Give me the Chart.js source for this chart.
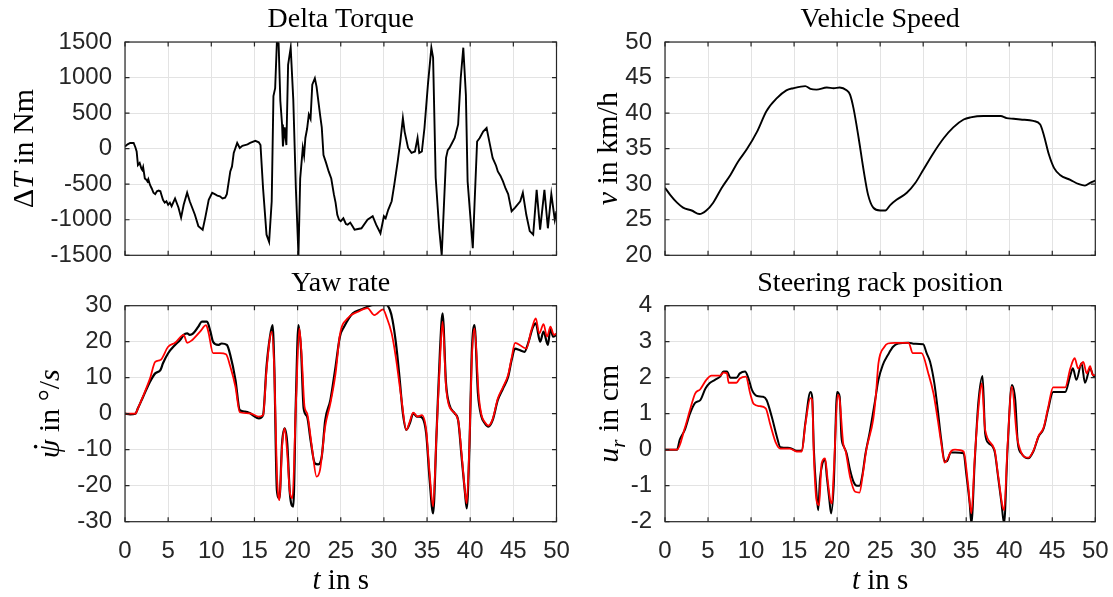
<!DOCTYPE html>
<html><head><meta charset="utf-8">
<script src="https://cdn.jsdelivr.net/npm/chart.js@4.4.1/dist/chart.umd.min.js"></script>
<style>
html,body{margin:0;padding:0;background:#fff;}
#wrap{position:relative;width:1113px;height:597px;background:#fff;}
canvas{position:absolute;left:0;top:0;}
</style></head><body><div id="wrap">
<canvas id="c1" width="1113" height="597"></canvas>
<canvas id="c2" width="1113" height="597"></canvas>
<canvas id="c3" width="1113" height="597"></canvas>
<canvas id="c4" width="1113" height="597"></canvas>
</div>
<script>
// ---------------- DATA ----------------
const timeTicks = [0,5,10,15,20,25,30,35,40,45,50];

const torqueT = [0,0.3,0.6,1.0,1.2,1.35,1.5,1.7,1.9,2.0,2.1,2.3,2.5,2.6,2.7,2.9,3.1,3.3,3.5,3.7,3.9,4.1,4.2,4.4,4.6,4.8,5.0,5.2,5.4,5.8,6.2,6.5,6.8,7.2,7.5,8.1,8.5,9.0,9.3,9.7,10.1,10.4,10.7,11.0,11.3,11.6,11.8,12.2,12.4,12.6,13.0,13.3,13.6,13.9,14.2,14.5,15.1,15.5,15.7,16.0,16.4,16.7,17.0,17.2,17.4,17.6,17.8,18.0,18.2,18.3,18.5,18.7,18.9,19.2,19.5,19.8,20.1,20.3,20.6,20.75,20.9,21.1,21.3,21.5,21.7,22.0,22.2,22.6,22.8,23.0,23.3,23.6,23.9,24.2,24.4,24.6,24.8,25.0,25.3,25.6,25.8,26.1,26.4,26.6,27.0,27.4,28.1,28.7,29.1,29.6,30.0,30.2,30.5,30.7,30.9,31.2,31.6,31.9,32.2,32.4,32.8,33.2,33.6,33.9,34.1,34.4,34.7,35.1,35.5,35.7,36.0,36.4,36.7,37.2,37.4,37.6,37.9,38.2,38.6,38.9,39.2,39.5,39.7,40.3,40.5,40.8,41.1,41.5,41.9,42.3,42.6,43.0,43.2,43.5,43.8,44.1,44.4,44.8,45.2,45.8,46.1,46.5,46.9,47.3,47.7,48.1,48.6,49.0,49.4,49.8,50];
const torqueV = [30,60,80,80,20,-40,-230,-200,-280,-300,-260,-420,-440,-460,-430,-510,-560,-620,-640,-600,-590,-600,-640,-720,-760,-740,-790,-760,-810,-700,-830,-970,-790,-620,-740,-930,-1090,-1140,-970,-720,-620,-640,-660,-670,-700,-690,-640,-320,-250,-60,80,10,40,50,60,80,110,90,50,-560,-1210,-1310,-740,740,850,1500,1480,670,340,30,300,50,1180,1420,690,-560,-1500,-420,10,-100,150,280,480,420,900,990,870,480,300,-90,-200,-320,-420,-640,-760,-930,-1000,-1020,-980,-1060,-1070,-1040,-1100,-1140,-1130,-1120,-1000,-950,-1070,-1190,-950,-980,-860,-800,-740,-510,-180,100,430,240,10,-60,-40,150,-60,-40,290,900,1420,1280,-410,-1120,-1500,-130,-20,10,80,150,340,990,1420,760,-460,-1400,-790,100,150,240,290,50,-130,-240,-320,-380,-460,-560,-640,-880,-830,-740,-620,-930,-1160,-1210,-580,-1140,-580,-1120,-640,-1000,-880];

const speedT = [0,0.6,1.4,2.1,3.1,4.0,4.8,5.6,6.6,7.6,8.5,9.5,10.7,11.8,13.0,14.1,14.9,16.3,16.9,17.6,18.8,19.6,20.3,21.1,21.5,21.9,22.5,23.1,23.6,24.2,25.0,25.6,26.2,26.9,28.1,29.1,30.0,31.2,32.4,33.5,34.7,35.5,37.0,39.0,39.7,40.5,41.3,42.8,43.6,44.0,44.6,45.2,45.9,47.1,48.1,48.8,49.4,50];
const speedV = [29.5,28.5,27.4,26.7,26.3,25.8,26.3,27.4,29.5,31.3,33.2,34.9,37.4,40.3,42.1,43.2,43.5,43.8,43.4,43.3,43.6,43.5,43.6,43.2,42.6,40.7,36.5,31.8,28.5,26.7,26.3,26.3,27.1,27.8,28.8,30.2,32.0,34.4,36.5,38.0,39.1,39.4,39.6,39.6,39.3,39.2,39.1,38.9,38.4,37.0,34.2,32.3,31.3,30.6,30.0,29.8,30.2,30.5];

const yawMeasT = [0,0.6,1.2,1.5,2.1,2.9,3.5,4.1,4.4,5.0,5.8,6.4,6.8,7.2,7.5,7.9,8.5,8.9,9.5,9.9,10.2,10.8,11.2,11.8,12.2,12.8,13.3,13.9,14.5,14.9,15.5,16.0,16.4,16.8,17.1,17.3,17.6,17.9,18.2,18.5,18.8,19.1,19.5,19.8,20.1,20.4,20.7,21.1,21.5,22.0,22.4,22.8,23.2,23.8,24.4,24.9,25.4,26.4,27.4,28.3,28.7,30.1,30.7,31.0,31.4,31.8,32.2,32.6,33.0,33.4,33.8,34.1,34.5,34.9,35.3,35.7,36.1,36.5,36.8,37.2,37.6,38.2,38.6,39.0,39.4,39.6,39.9,40.2,40.5,40.9,41.3,41.7,42.1,42.6,43.2,43.8,44.4,44.8,45.2,45.7,46.3,46.7,47.3,47.6,48.1,48.5,49.0,49.3,49.6,50];
const yawMeasV = [0,-0.2,0,1.5,4.7,8.9,11.2,12.1,14.0,16.8,19.1,20.5,21.9,22.3,21.9,22.3,24.2,25.6,25.6,22.8,20.0,19.1,19.5,19.1,16.3,9.4,1.0,0.6,0.1,-0.6,-1.3,-0.4,13.1,21.4,24.6,13.1,-21.2,-23.5,-8.2,-4.1,-8.2,-22.1,-25.8,3.8,24.6,17.7,1.5,-0.8,-7.3,-13.8,-14.1,-11.9,-1.8,3.8,13.1,21.4,24.2,27.9,29.0,29.9,30.2,30.5,28.8,26.0,19.5,10.3,0.1,-4.5,-2.7,0.1,-0.8,-0.8,-1.3,-5.5,-18.4,-27.7,-5.5,17.7,27.9,8.4,2.4,0.1,-1.8,-11.9,-22.1,-26.3,-10.1,17.7,24.6,5.6,-0.8,-2.7,-3.6,-1.8,3.8,7.0,10.3,14.9,18.1,17.7,17.2,19.5,24.2,25.1,20.0,22.8,19.1,23.7,21.4,21.9];

const yawModelT = [0,1.2,1.5,2.1,2.9,3.5,4.1,5.0,5.8,6.8,7.2,7.7,8.7,9.4,9.7,10.2,11.0,11.7,12.2,12.8,13.3,14.5,15.5,16.0,16.4,17.0,17.3,17.6,17.9,18.2,18.5,18.8,19.1,19.4,19.8,20.2,20.5,20.8,21.1,21.7,22.2,22.6,23.2,23.8,24.4,24.9,25.8,27.0,28.1,28.9,29.9,30.3,30.9,31.4,32.0,32.6,33.0,33.4,33.9,34.4,34.9,35.3,35.7,36.1,36.5,36.8,37.2,37.6,38.6,39.0,39.4,39.6,39.9,40.2,40.5,41.0,41.3,41.7,42.1,42.6,43.2,43.8,44.4,44.8,45.2,46.5,47.1,47.6,48.0,48.5,48.9,49.3,49.7,50];
const yawModelV = [0,0,1.5,4.9,9.8,14.4,14.9,18.6,19.7,21.9,19.7,20.3,22.8,24.6,22.3,16.8,16.8,16.5,13.1,7.5,0.4,0.1,-0.8,-0.4,12.1,22.8,12.1,-16.6,-24.0,-9.2,-4.1,-11.0,-21.7,-23.5,2.0,23.7,14.9,2.0,0.1,-10.1,-17.5,-15.6,-3.5,2.9,11.2,21.9,26.5,28.3,29.3,27.4,29.0,26.9,22.3,15.4,4.7,-4.5,-2.2,0.3,-0.8,-0.4,-4.5,-16.6,-25.8,-5.5,14.9,25.6,7.5,1.9,-1.8,-11.0,-21.7,-24.9,-9.2,15.8,23.7,4.7,-0.3,-2.4,-3.3,-1.5,4.2,7.4,10.8,15.5,19.7,18.1,23.3,26.5,22.3,24.9,21.4,24.2,21.9,22.3];

const rackMeasT = [0,1.4,1.7,2.3,2.9,3.5,4.1,4.7,5.2,5.8,6.4,6.8,7.2,7.6,8.3,8.7,9.3,9.7,10.1,10.7,11.4,11.8,12.4,13.0,13.4,14.5,15.3,15.9,16.3,16.9,17.1,17.3,17.6,17.8,18.0,18.3,18.6,18.8,19.1,19.3,19.6,20.0,20.3,20.5,20.8,21.1,21.5,21.9,22.3,22.6,22.9,23.3,23.8,24.4,24.8,25.3,25.9,26.5,27.1,28.3,29.0,30.0,30.4,30.8,31.3,31.7,32.1,32.5,32.8,33.2,33.7,34.7,35.0,35.4,35.6,36.0,36.4,36.9,37.2,37.6,38.3,38.7,39.1,39.4,39.8,40.3,40.7,41.0,41.4,42.2,42.8,43.4,44.0,44.5,45.1,46.5,47.1,47.4,47.8,48.4,48.8,49.4,49.8,50];
const rackMeasV = [0,0,0.27,0.55,1.0,1.3,1.38,1.7,1.85,1.94,2.03,2.17,2.17,2.0,2.0,2.12,2.17,1.98,1.66,1.49,1.47,1.38,0.92,0.36,0.07,0.05,-0.03,-0.02,0.73,1.6,1.47,0,-1.2,-1.68,-0.84,-0.38,-0.27,-0.75,-1.4,-1.77,-1.03,1.6,1.47,0.36,0.08,-0.1,-0.56,-0.89,-1.0,-1.0,-0.75,-0.1,0.5,1.35,1.94,2.35,2.63,2.86,2.95,2.97,2.94,2.93,2.68,2.44,1.84,1.1,0.27,-0.33,-0.31,-0.08,-0.08,-0.1,-0.66,-1.49,-2.05,-0.29,1.29,2.05,0.45,0.18,-0.05,-0.75,-1.49,-2.05,0,1.8,1.38,0.18,-0.1,-0.24,-0.05,0.36,0.59,1.1,1.6,1.6,2.07,2.26,1.94,2.4,1.86,2.26,2.05,2.05];

const rackModelT = [0,1.4,2.3,2.9,3.5,4.1,4.8,5.4,6.4,6.8,7.2,7.4,8.3,8.7,9.4,9.9,10.3,11.0,11.7,12.2,12.9,13.4,14.5,15.3,15.9,16.3,16.9,17.1,17.3,17.6,17.9,18.2,18.6,18.9,19.2,19.4,19.6,20.1,20.3,20.7,21.0,21.5,22.1,22.6,23.0,23.4,24.2,24.5,24.8,25.5,25.9,26.7,28.3,28.8,29.8,30.6,31.2,31.7,32.1,32.5,33.3,33.7,34.7,35.2,35.6,36.0,36.4,36.8,37.2,38.3,38.7,39.4,39.8,40.3,40.9,41.4,42.2,42.8,43.4,44.0,44.5,45.1,46.5,47.1,47.6,48.0,48.6,49.0,49.4,49.7,50];
const rackModelV = [0,0,0.6,1.1,1.56,1.68,1.94,2.06,2.06,2.14,2.12,1.86,1.86,1.98,2.03,1.56,1.27,1.21,1.15,0.73,0.18,0.03,0.03,-0.05,-0.05,0.68,1.43,1.38,-0.19,-1.4,-1.54,-0.38,-0.24,-0.84,-1.4,-1.49,-0.66,1.52,1.38,0.18,-0.05,-0.75,-1.17,-1.19,-0.66,0,0.85,1.5,2.4,2.86,2.95,2.97,2.97,2.68,2.68,2.12,1.56,0.82,0.18,-0.36,-0.03,0,-0.05,-0.93,-1.77,-0.19,1.1,1.84,0.55,0,-0.7,-1.68,0.09,1.75,0.36,-0.08,-0.22,-0.03,0.38,0.62,1.15,1.73,1.73,2.26,2.54,2.26,2.44,2.12,2.32,2.07,2.07];

const torqueTicks = [-1500,-1000,-500,0,500,1000,1500];
const speedTicks = [20,25,30,35,40,45,50];
const yawTicks = [-30,-20,-10,0,10,20,30];
const rackTicks = [-2,-1,0,1,2,3,4];

// ---------------- RENDERING ----------------
const W = 1113, H = 597;
const TICK_FONT = {family: '"Liberation Sans", Arial, sans-serif', size: 24};
const SERIF = '"Liberation Serif", "Times New Roman", serif';

function pts(ts, vs){ return ts.map((t,i)=>({x:t, y:vs[i]})); }

const decoPlugin = {
  id: 'deco',
  afterDraw(chart){
    const o = chart.options.plugins.deco;
    const ctx = chart.ctx, a = chart.chartArea;
    const xs = chart.scales.x, ys = chart.scales.y;
    ctx.save();
    ctx.strokeStyle = '#262626';
    ctx.lineWidth = 1.2;
    ctx.strokeRect(a.left, a.top, a.right - a.left, a.bottom - a.top);
    const tl = 4.5;
    ctx.beginPath();
    xs.ticks.forEach(t => {
      const p = xs.getPixelForValue(t.value);
      ctx.moveTo(p, a.bottom); ctx.lineTo(p, a.bottom - tl);
      ctx.moveTo(p, a.top); ctx.lineTo(p, a.top + tl);
    });
    ys.ticks.forEach(t => {
      const p = ys.getPixelForValue(t.value);
      ctx.moveTo(a.left, p); ctx.lineTo(a.left + tl, p);
      ctx.moveTo(a.right, p); ctx.lineTo(a.right - tl, p);
    });
    ctx.stroke();
    ctx.fillStyle = '#000';
    ctx.font = '28px ' + SERIF;
    ctx.textAlign = 'center';
    ctx.textBaseline = 'alphabetic';
    ctx.fillText(o.title, (a.left + a.right) / 2, o.titleY);
    ctx.save();
    ctx.translate(o.yLabelX, (a.top + a.bottom) / 2);
    ctx.rotate(-Math.PI / 2);
    drawRuns(ctx, o.yLabel, 30);
    ctx.restore();
    if (o.xLabel) {
      ctx.save();
      ctx.translate((a.left + a.right) / 2, 589);
      drawRuns(ctx, o.xLabel, 29);
      ctx.restore();
    }
    ctx.restore();
  }
};

function runFont(r, size){
  const s = r.sub ? Math.round(size * 0.7) : size;
  return (r.i ? 'italic ' : '') + s + 'px ' + SERIF;
}
function drawRuns(ctx, runs, size){
  ctx.textAlign = 'left';
  ctx.textBaseline = 'alphabetic';
  ctx.fillStyle = '#000';
  let total = 0;
  const ws = runs.map(r => { ctx.font = runFont(r, size); const w = ctx.measureText(r.t).width; total += w; return w; });
  let x = -total / 2;
  runs.forEach((r, i) => {
    ctx.font = runFont(r, size);
    ctx.fillText(r.t, x, r.sub ? size * 0.22 : 0);
    if (r.dot) {
      ctx.beginPath();
      ctx.arc(x + ws[i] * 0.62, -size * 0.78, size * 0.06, 0, Math.PI * 2);
      ctx.fill();
    }
    x += ws[i];
  });
}

function makeChart(id, cfg){
  const ds = cfg.series.map(s => ({
    data: pts(s.t, s.v),
    borderColor: s.color,
    borderWidth: s.width,
    pointRadius: 0,
    fill: false,
    tension: 0,
    cubicInterpolationMode: s.smooth ? 'monotone' : 'default',
    order: s.order
  }));
  return new Chart(document.getElementById(id), {
    type: 'line',
    data: { datasets: ds },
    options: {
      responsive: false,
      devicePixelRatio: 1,
      animation: false,
      events: [],
      layout: { padding: { left: 0, top: cfg.area.top, right: W - cfg.area.right, bottom: 0 } },
      plugins: {
        legend: { display: false },
        tooltip: { enabled: false },
        deco: { title: cfg.title, titleY: cfg.titleY, yLabel: cfg.yLabel, yLabelX: cfg.yLabelX, xLabel: cfg.xLabel }
      },
      scales: {
        x: {
          type: 'linear', min: 0, max: 50,
          afterBuildTicks: s => { s.ticks = timeTicks.map(v => ({value: v})); },
          ticks: { display: cfg.showX, font: TICK_FONT, color: '#262626', padding: 15, maxRotation: 0, autoSkip: false,
                   callback: v => String(v) },
          grid: { color: '#e3e3e3', lineWidth: 1, drawTicks: false },
          border: { display: false },
          afterFit: s => { s.height = H - cfg.area.bottom; s.paddingLeft = 0; s.paddingRight = 0; }
        },
        y: {
          type: 'linear', min: cfg.yTicks[0], max: cfg.yTicks[cfg.yTicks.length - 1],
          afterBuildTicks: s => { s.ticks = cfg.yTicks.map(v => ({value: v})); },
          ticks: { font: TICK_FONT, color: '#262626', padding: 13, autoSkip: false, callback: v => String(v) },
          grid: { color: '#e3e3e3', lineWidth: 1, drawTicks: false },
          border: { display: false },
          afterFit: s => { s.width = cfg.area.left; s.paddingTop = 0; s.paddingBottom = 0; }
        }
      }
    },
    plugins: [decoPlugin]
  });
}

const TOP = {top: 42, bottom: 255.3};
const BOT = {top: 305.7, bottom: 521.7};
const LEFT = {left: 125, right: 556.5};
const RIGHT = {left: 665, right: 1095.3};

makeChart('c1', {
  area: {...LEFT, ...TOP}, title: 'Delta Torque', titleY: 27, showX: false,
  yTicks: torqueTicks, yLabelX: 33,
  yLabel: [{t:'Δ'},{t:'T', i:true},{t:' in Nm'}],
  series: [{t: torqueT, v: torqueV, color: '#000', width: 1.9, order: 0, smooth: false}]
});
makeChart('c2', {
  area: {...RIGHT, ...TOP}, title: 'Vehicle Speed', titleY: 27, showX: false,
  yTicks: speedTicks, yLabelX: 617,
  yLabel: [{t:'v', i:true},{t:' in km/h'}],
  series: [{t: speedT, v: speedV, color: '#000', width: 1.9, order: 0, smooth: true}]
});
makeChart('c3', {
  area: {...LEFT, ...BOT}, title: 'Yaw rate', titleY: 291, showX: true,
  yTicks: yawTicks, yLabelX: 59,
  yLabel: [{t:'ψ', i:true, dot:true},{t:' in '},{t:'°'},{t:'/'},{t:'s', i:true}],
  xLabel: [{t:'t', i:true},{t:' in s'}],
  series: [
    {t: yawModelT, v: yawModelV, color: '#ff0000', width: 1.8, order: 0, smooth: true},
    {t: yawMeasT, v: yawMeasV, color: '#000', width: 2.2, order: 1, smooth: true}
  ]
});
makeChart('c4', {
  area: {...RIGHT, ...BOT}, title: 'Steering rack position', titleY: 291, showX: true,
  yTicks: rackTicks, yLabelX: 618,
  yLabel: [{t:'u', i:true},{t:'r', i:true, sub:true},{t:' in cm'}],
  xLabel: [{t:'t', i:true},{t:' in s'}],
  series: [
    {t: rackModelT, v: rackModelV, color: '#ff0000', width: 1.8, order: 0, smooth: true},
    {t: rackMeasT, v: rackMeasV, color: '#000', width: 2, order: 1, smooth: true}
  ]
});
</script>
</body></html>
